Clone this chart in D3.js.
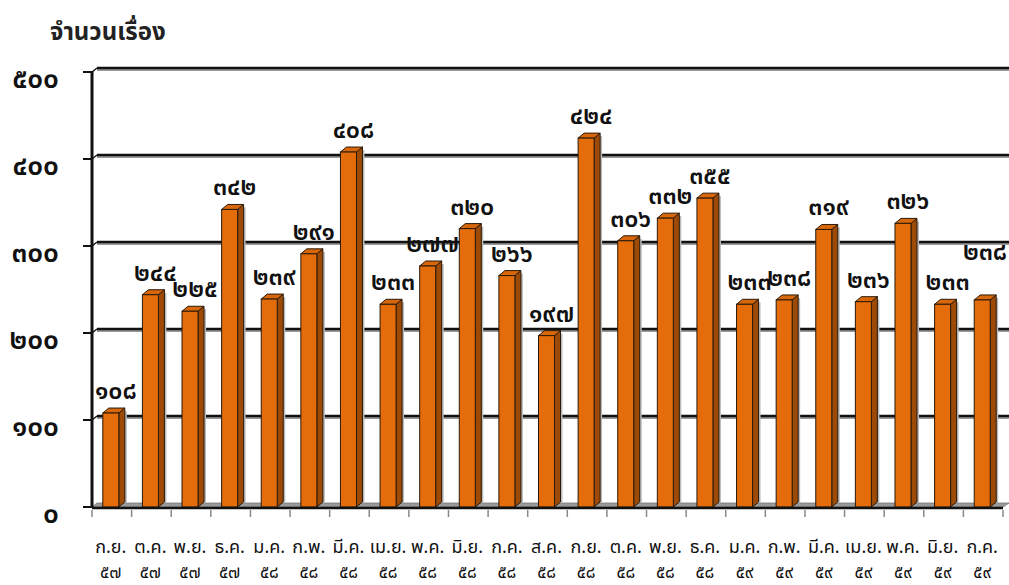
<!DOCTYPE html>
<html>
<head>
<meta charset="utf-8">
<script src="https://cdn.jsdelivr.net/npm/d3@7"></script>
<style>
  body { margin: 0; background: #fff; }
  text { font-family: "Noto Sans Thai", "Noto Sans", "DejaVu Sans", sans-serif; }
</style>
</head>
<body>
<div id="chart"></div>
<script>
const months = ["ก.ย.", "ต.ค.", "พ.ย.", "ธ.ค.", "ม.ค.", "ก.พ.", "มี.ค.", "เม.ย.", "พ.ค.", "มิ.ย.", "ก.ค.", "ส.ค.",
  "ก.ย.", "ต.ค.", "พ.ย.", "ธ.ค.", "ม.ค.", "ก.พ.", "มี.ค.", "เม.ย.", "พ.ค.", "มิ.ย.", "ก.ค."];
const years = ["๕๗", "๕๗", "๕๗", "๕๗", "๕๘", "๕๘", "๕๘", "๕๘", "๕๘", "๕๘", "๕๘", "๕๘",
  "๕๘", "๕๘", "๕๘", "๕๘", "๕๙", "๕๙", "๕๙", "๕๙", "๕๙", "๕๙", "๕๙"];
const values = [108, 244, 225, 342, 239, 291, 408, 233, 277, 320, 266, 197,
  424, 306, 332, 355, 233, 238, 319, 236, 326, 233, 238];
const yTicks = [0, 100, 200, 300, 400, 500];
const yTitle = "จำนวนเรื่อง";

const width = 1009, height = 585;
const plotL = 92, plotR = 1003, plotT = 72, plotB = 507;
const depthX = 6, depthY = 5;

// thai digits
const thaiDigits = "๐๑๒๓๔๕๖๗๘๙";
function thai(n) {
  return String(n).replace(/[0-9]/g, function(c) { return thaiDigits[+c]; });
}

const svg = d3.select("#chart").append("svg")
  .attr("width", width)
  .attr("height", height);

const keys = d3.range(values.length);
const x = d3.scaleBand()
  .domain(keys)
  .range([plotL, plotR]);
const y = d3.scaleLinear()
  .domain([0, 500])
  .range([plotB, plotT]);

svg.append("text")
  .attr("x", 50)
  .attr("y", 40)
  .attr("font-size", 24)
  .attr("font-weight", "bold")
  .attr("fill", "#222")
  .text(yTitle);

// floor
svg.append("path")
  .attr("d", "M" + plotL + "," + plotB + "L" + (plotL + depthX - 1) + "," + (plotB - depthY + 1) +
    "L" + (plotR + depthX) + "," + (plotB - depthY + 1) + "L" + plotR + "," + plotB + "Z")
  .attr("fill", "#9a9a9a")
  .attr("stroke", "#777")
  .attr("stroke-width", 0.8);

// back wall gridlines
const grid = svg.append("g");
yTicks.filter(function(d) { return d > 0; }).forEach(function(d) {
  grid.append("line")
    .attr("x1", plotL + depthX - 1).attr("x2", plotR + depthX)
    .attr("y1", y(d) - depthY + 3).attr("y2", y(d) - depthY + 3)
    .attr("stroke", "#999").attr("stroke-width", 2);
  grid.append("line")
    .attr("x1", plotL + depthX - 1).attr("x2", plotR + depthX)
    .attr("y1", y(d) - depthY + 1).attr("y2", y(d) - depthY + 1)
    .attr("stroke", "#111").attr("stroke-width", 2.5);
  grid.append("line")
    .attr("x1", plotL).attr("x2", plotL + depthX - 1)
    .attr("y1", y(d)).attr("y2", y(d) - depthY + 1)
    .attr("stroke", "#111").attr("stroke-width", 1.5);
});

// y axis
svg.append("line")
  .attr("x1", plotL).attr("x2", plotL)
  .attr("y1", plotT - 1).attr("y2", plotB + 1)
  .attr("stroke", "#111").attr("stroke-width", 3);

svg.append("g").selectAll("line")
  .data(yTicks).enter()
  .append("line")
  .attr("x1", plotL - 9).attr("x2", plotL)
  .attr("y1", function(d) { return y(d); })
  .attr("y2", function(d) { return y(d); })
  .attr("stroke", "#111").attr("stroke-width", 2);

svg.append("g").selectAll("text")
  .data(yTicks).enter()
  .append("text")
  .attr("x", 59)
  .attr("y", function(d) { return y(d) + 16; })
  .attr("text-anchor", "end")
  .attr("font-size", 28)
  .attr("font-weight", 600)
  .attr("fill", "#111")
  .text(function(d) { return thai(d); });

// bars
const bw = 16;
const bars = svg.append("g").selectAll("g")
  .data(keys).enter()
  .append("g");

function cx(i) { return x(i) + x.bandwidth() / 2; }

// shadow
bars.append("rect")
  .attr("x", function(i) { return cx(i) - 9 + bw + depthX - 1; })
  .attr("y", function(i) { return y(values[i]) - depthY + 3; })
  .attr("width", 3)
  .attr("height", function(i) { return plotB - y(values[i]) - 2; })
  .attr("fill", "#bbb");

bars.append("path")
  .attr("d", function(i) {
    const x0 = cx(i) - 9 + bw, yt = y(values[i]);
    return "M" + x0 + "," + yt + "L" + (x0 + depthX) + "," + (yt - depthY) +
      "L" + (x0 + depthX) + "," + (plotB - depthY) + "L" + x0 + "," + plotB + "Z";
  })
  .attr("fill", "#9c4a05")
  .attr("stroke", "#2a1a0a").attr("stroke-width", 1);

bars.append("path")
  .attr("d", function(i) {
    const x0 = cx(i) - 9, yt = y(values[i]);
    return "M" + x0 + "," + yt + "L" + (x0 + depthX) + "," + (yt - depthY) +
      "L" + (x0 + bw + depthX) + "," + (yt - depthY) + "L" + (x0 + bw) + "," + yt + "Z";
  })
  .attr("fill", "#d8660a")
  .attr("stroke", "#2a1a0a").attr("stroke-width", 1);

bars.append("rect")
  .attr("x", function(i) { return cx(i) - 9; })
  .attr("y", function(i) { return y(values[i]); })
  .attr("width", bw)
  .attr("height", function(i) { return plotB - y(values[i]); })
  .attr("fill", "#e46c0a")
  .attr("stroke", "#2a1a0a").attr("stroke-width", 1);

// value labels (a label pushed in from the right edge is lifted so it clears its neighbour)
const labelMaxX = width - 24;
bars.append("text")
  .attr("x", function(i) { return Math.min(cx(i) + 4, labelMaxX); })
  .attr("y", function(i) {
    const lift = cx(i) + 4 > labelMaxX ? 26 : 0;
    return y(values[i]) - 14 - lift;
  })
  .attr("text-anchor", "middle")
  .attr("font-size", 25)
  .attr("font-weight", 600)
  .attr("fill", "#111")
  .text(function(i) { return thai(values[i]); });

// x axis line and ticks
svg.append("line")
  .attr("x1", plotL).attr("x2", plotR)
  .attr("y1", plotB + 1).attr("y2", plotB + 1)
  .attr("stroke", "#111").attr("stroke-width", 2.5);

const xTicks = keys.map(function(i) { return x(i); }).concat([plotR]);
svg.append("g").selectAll("line")
  .data(xTicks).enter()
  .append("line")
  .attr("x1", function(d) { return d; }).attr("x2", function(d) { return d; })
  .attr("y1", plotB + 3).attr("y2", plotB + 10)
  .attr("stroke", "#888").attr("stroke-width", 1.5);

const xl = svg.append("g").selectAll("g")
  .data(keys).enter()
  .append("g");
xl.append("text")
  .attr("x", function(i) { return cx(i) - 1; })
  .attr("y", 553)
  .attr("text-anchor", "middle")
  .attr("font-size", 18)
  .attr("fill", "#111")
  .text(function(i) { return months[i]; });
xl.append("text")
  .attr("x", function(i) { return cx(i) - 1; })
  .attr("y", 578)
  .attr("text-anchor", "middle")
  .attr("font-size", 17)
  .attr("fill", "#111")
  .text(function(i) { return years[i]; });
</script>
</body>
</html>
